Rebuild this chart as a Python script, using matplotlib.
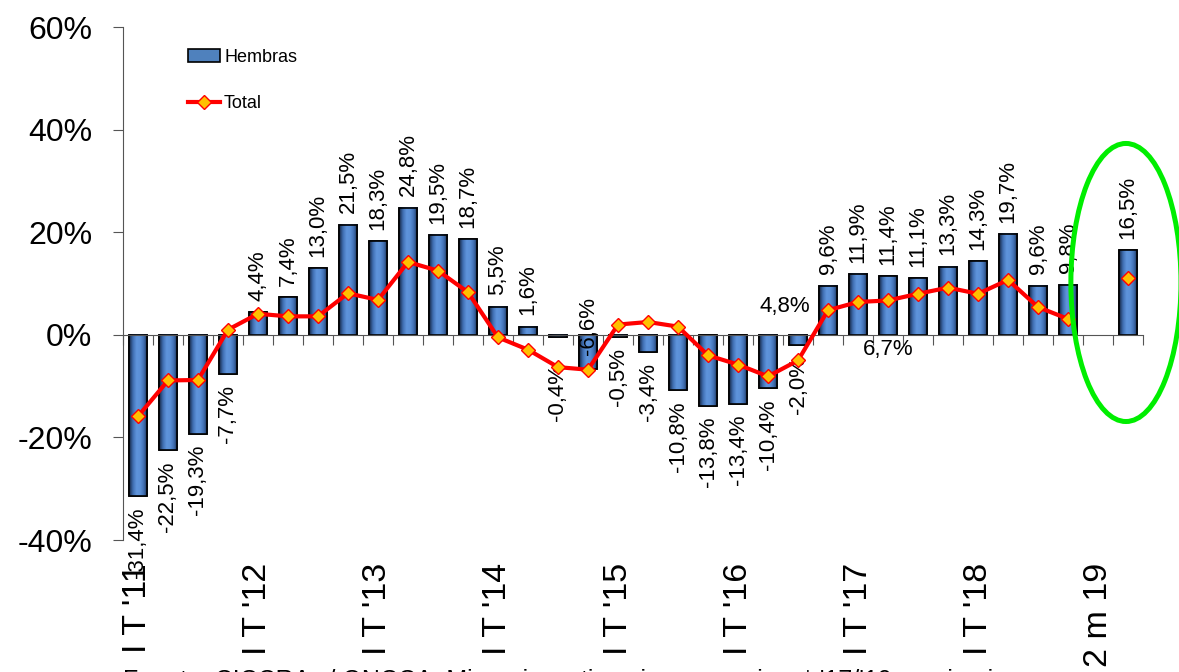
import numpy as np
import matplotlib.pyplot as plt
from matplotlib.colors import LinearSegmentedColormap
from matplotlib.patches import Ellipse

plt.rcParams['font.family'] = ['Liberation Sans', 'DejaVu Sans']

# categories: quarters 2011-2018, then an empty slot and the 2-month 2019 figure
quarters = [f"{q} T '{y}" for y in range(11, 19) for q in ["I", "II", "III", "IV"]]
categories = quarters + ["2 m 19", ""]

hembras = [-31.4, -22.5, -19.3, -7.7, 4.4, 7.4, 13.0, 21.5,
           18.3, 24.8, 19.5, 18.7, 5.5, 1.6, -0.4, -6.6,
           -0.5, -3.4, -10.8, -13.8, -13.4, -10.4, -2.0, 9.6,
           11.9, 11.4, 11.1, 13.3, 14.3, 19.7, 9.6, 9.8,
           np.nan, 16.5]
total = [-15.9, -8.9, -8.8, 1.0, 4.1, 3.6, 3.6, 8.1,
         6.8, 14.2, 12.5, 8.3, -0.5, -2.9, -6.3, -6.8,
         2.0, 2.5, 1.6, -4.0, -5.8, -8.1, -5.0, 4.8,
         6.4, 6.7, 8.0, 9.2, 8.0, 10.7, 5.4, 3.1,
         np.nan, 11.1]


def pct(v):
    return f"{v:.1f}%".replace('.', ',')


x = np.arange(len(categories))
h = np.array(hembras, dtype=float)
t = np.array(total, dtype=float)

fig = plt.figure(figsize=(11.79, 6.72), dpi=100)
ax = fig.add_axes([0.1043, 0.1964, 0.8652, 0.7634])

bar_w = 0.6
bars = ax.bar(x, h, width=bar_w, color='#4f81bd', edgecolor='black',
              linewidth=1.2, zorder=2, label='Hembras')

# cylinder-like shading on each bar
cmap = LinearSegmentedColormap.from_list(
    'cyl', ['#14243f', '#3f6db0', '#5f95dc', '#5a8fd6', '#3f6db0', '#14243f'])
grad = np.linspace(0, 1, 64).reshape(1, -1)
for b in bars:
    if np.isnan(b.get_height()):
        continue
    x0, w = b.get_x(), b.get_width()
    ax.imshow(grad, cmap=cmap, extent=(x0, x0 + w, 0, b.get_height()),
              aspect='auto', zorder=2.1, interpolation='bicubic')
ax.bar(x, h, width=bar_w, fill=False, edgecolor='black', linewidth=1.2, zorder=2.2)

line, = ax.plot(x, t, color='red', lw=3, marker='D', ms=7.5, mfc='#ffc000',
                mec='red', mew=1, zorder=4, label='Total')

ax.set_xlim(-0.5, len(categories) - 0.5)
ax.set_ylim(-40, 60)

for s in ['top', 'right']:
    ax.spines[s].set_visible(False)
ax.spines['bottom'].set_position(('data', 0))
ax.spines['bottom'].set_color('#555555')
ax.spines['left'].set_color('#555555')

ax.set_xticks(np.arange(-0.5, len(categories), 1))
ax.set_xticklabels([])
ax.tick_params(axis='x', direction='out', length=7, color='#555555')
yt = list(range(-40, 61, 20))
ax.set_yticks(yt)
ax.set_yticklabels([f"{v}%" for v in yt])
ax.tick_params(axis='y', direction='out', length=7, pad=15, labelsize=23,
               color='#555555')

# category labels, one per year
xtr = ax.get_xaxis_transform()
for i in range(0, len(categories), 4):
    ax.text(x[i], -0.045, categories[i], transform=xtr, rotation=90,
            ha='center', va='top', fontsize=24.5)

# bar value labels (a couple were moved by hand in the original)
nudges = {14: (-0.4, -19, 'top'), 15: (0.0, 6, 'center')}
for i, v in enumerate(h):
    if np.isnan(v):
        continue
    if i in nudges:
        yv, off, va = nudges[i]
    else:
        yv, off, va = v, (8 if v >= 0 else -8), ('bottom' if v >= 0 else 'top')
    ax.annotate(pct(v), (x[i], yv), xytext=(0, off), textcoords='offset points',
                rotation=90, ha='center', va=va, fontsize=16, zorder=3)

ax.annotate(pct(t[23]), (x[23], t[23]), xytext=(-13, 3), textcoords='offset points',
            ha='right', va='center', fontsize=16, zorder=3)
ax.annotate(pct(t[25]), (x[25], t[25]), xytext=(0, -35), textcoords='offset points',
            ha='center', va='center', fontsize=16, zorder=3)

ax.legend([bars, line], ['Hembras', 'Total'], loc='upper left',
          bbox_to_anchor=(0.0637, 0.957), frameon=False,
          fontsize=13, labelspacing=1.6, handlelength=1.75, handletextpad=0.25,
          borderpad=0, borderaxespad=0)

ax.add_patch(Ellipse((32.93, 10.2), width=3.67, height=54.2, fill=False,
                     ec='#00ee00', lw=3.6, zorder=5, clip_on=False))

fig.text(123 / 1179, -16 / 672,
         "Fuente: CICCRA s/ ONCCA, Minagri y estimaciones propias. * '17/'19 provisorios",
         fontsize=18, va='baseline')

fig.savefig('out.png', dpi=100)
